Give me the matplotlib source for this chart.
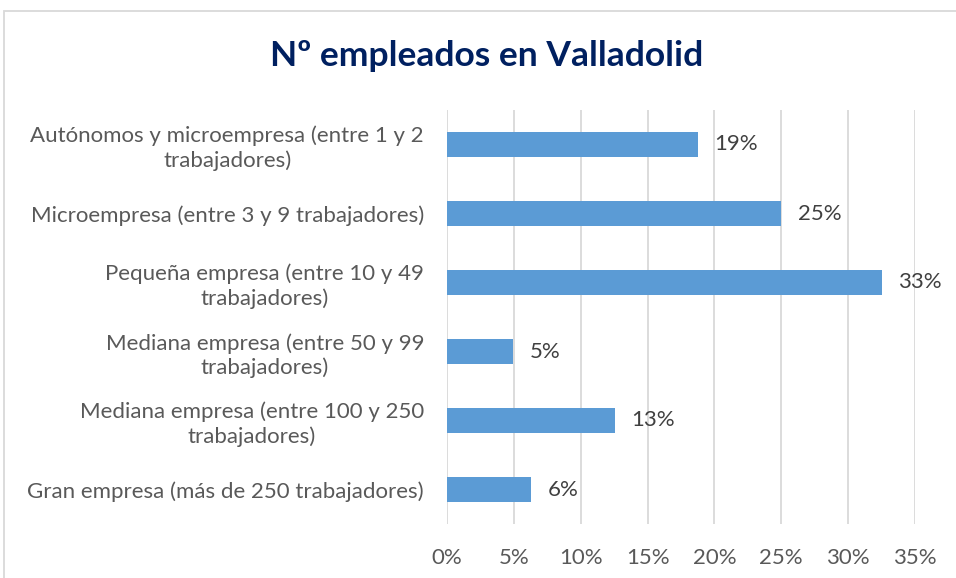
import matplotlib.pyplot as plt
from matplotlib.patches import Rectangle
from matplotlib.ticker import FuncFormatter

# Data (share of employees, %)
categories = [
    'Autónomos y microempresa (entre 1 y 2\ntrabajadores)',
    'Microempresa (entre 3 y 9 trabajadores)',
    'Pequeña empresa (entre 10 y 49\ntrabajadores)',
    'Mediana empresa (entre 50 y 99\ntrabajadores)',
    'Mediana empresa (entre 100 y 250\ntrabajadores)',
    'Gran empresa (más de 250 trabajadores)',
]
values = [18.75, 25.0, 32.5, 4.95, 12.55, 6.3]
labels = ['19%', '25%', '33%', '5%', '13%', '6%']
xticks = [0, 5, 10, 15, 20, 25, 30, 35]

plt.rcParams['font.family'] = ['Lato', 'DejaVu Sans']

fig = plt.figure(figsize=(9.56, 5.78), dpi=100)

# chart border (runs off the right and bottom edges like the reference)
fig.patches.append(Rectangle((4 / 956, -0.05), 1.1, 1 - 11 / 578 + 0.05,
                             transform=fig.transFigure, fill=False,
                             edgecolor='#d9d9d9', linewidth=1.3))

ax = fig.add_axes([447 / 956, 1 - 524 / 578, 468 / 956, 414 / 578])

y = list(range(len(categories)))
ax.barh(y, values, height=0.35, color='#5b9bd5', zorder=3)
ax.set_ylim(len(categories) - 0.5, -0.5)
ax.set_xlim(0, 35)

for yi, v, lab in zip(y, values, labels):
    ax.text(v + 1.25, yi, lab, va='center', ha='left', fontsize=16,
            color='#404040', zorder=4)

ax.set_yticks(y)
ax.set_yticklabels(categories, fontsize=16, color='#595959',
                   multialignment='center', linespacing=1.25)
ax.set_xticks(xticks)
ax.xaxis.set_major_formatter(FuncFormatter(lambda v, p: f'{v:.0f}%'))
ax.tick_params(axis='x', labelsize=16, labelcolor='#595959', length=0, pad=17)
ax.tick_params(axis='y', length=0, pad=16.5)

ax.grid(axis='x', color='#d9d9d9', linewidth=1.3, zorder=0)
for s in ax.spines.values():
    s.set_visible(False)

fig.text(487 / 956, 1 - 56 / 578, 'Nº empleados en Valladolid', ha='center',
         va='center', fontsize=25.5, fontweight='bold', color='#002060')

fig.savefig('out.png', dpi=100)
